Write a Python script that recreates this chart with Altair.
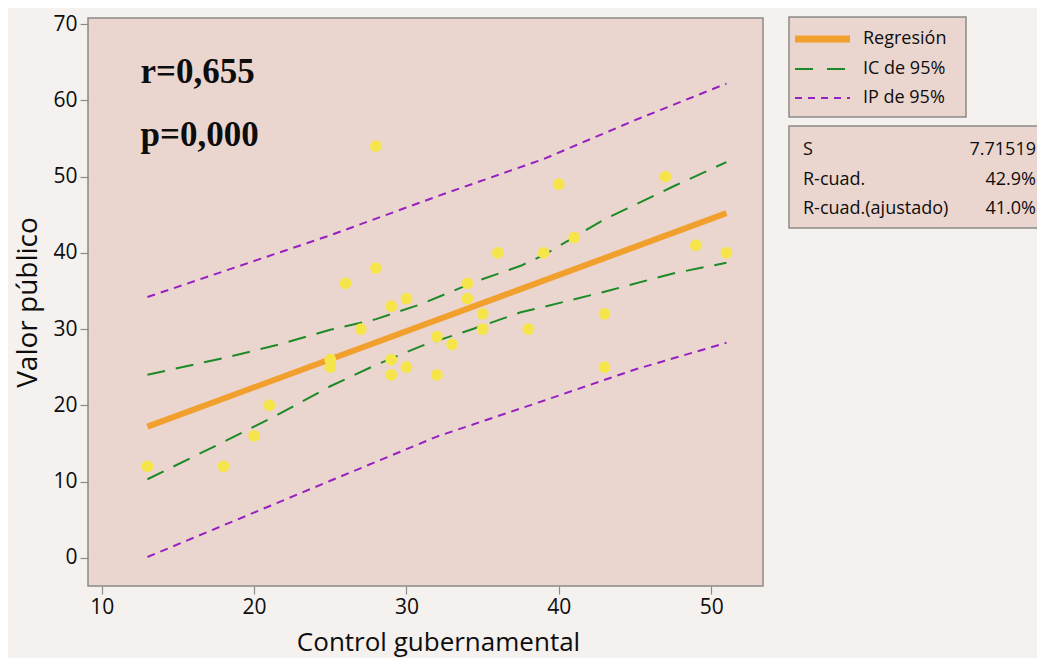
import altair as alt
import pandas as pd

# ---- data ----
control = [13, 18, 20, 21, 25, 25, 26, 27, 28, 28, 29, 29, 29, 30, 30, 32, 32,
           33, 34, 34, 35, 35, 36, 38, 39, 40, 41, 43, 43, 47, 49, 51]
valor = [12, 12, 16, 20, 26, 25, 36, 30, 54, 38, 33, 26, 24, 34, 25, 29, 24,
         28, 36, 34, 32, 30, 40, 30, 40, 49, 42, 32, 25, 50, 41, 40]

fit_x = [13, 51]
fit_y = [17.2, 45.2]

ci_x = [13, 18, 21.5, 25, 28, 31, 34.5, 37.5, 39, 43, 47.5, 51]
ci_upper = [24.0, 26.2, 27.9, 29.9, 31.3, 33.3, 36.2, 38.3, 39.7, 44.4, 48.7, 51.9]
ci_lower = [10.3, 15.2, 18.7, 22.5, 25.3, 27.8, 30.1, 32.2, 32.9, 34.9, 37.3, 38.7]

pi_x = [13, 25, 32, 39, 45, 51]
pi_upper = [34.2, 42.3, 47.4, 52.3, 57.4, 62.2]
pi_lower = [0.1, 10.1, 15.9, 20.6, 24.7, 28.2]

x_ticks = [10, 20, 30, 40, 50]
y_ticks = [0, 10, 20, 30, 40, 50, 60, 70]

annot_x = [12.55, 12.55]
annot_y = [62.3, 54.0]
annot_text = ["r=0,655", "p=0,000"]

legend_labels = ["Regresión", "IC de 95%", "IP de 95%"]
stat_names = ["S", "R-cuad.", "R-cuad.(ajustado)"]
stat_values = ["7.71519", "42.9%", "41.0%"]

# ---- styling ----
FONT = "Open Sans"
ORANGE = "#f1a02e"
GREEN = "#1c8a26"
PURPLE = "#9620c2"
YELLOW = "#f6e54a"
PINK = "#ebd6cf"
BORDER = "#8a8a8a"
INK = "#0d0d0d"

W, H = 675, 568
xs = alt.Scale(domain=[9.1, 53.4], nice=False, zero=False)
ys = alt.Scale(domain=[-3.7, 70.8], nice=False, zero=False)

xaxis = alt.Axis(values=x_ticks, title="Control gubernamental", grid=False, domain=False,
                 tickColor=BORDER, tickSize=8, tickWidth=1.2, labelFontSize=21,
                 labelColor=INK, labelFont=FONT, labelFontWeight=500, labelPadding=2,
                 titleFont=FONT, titleFontSize=26, titleFontWeight=500,
                 titleColor=INK, titleBaseline="alphabetic", titleAlign="center",
                 titleX=350, titleY=64)
yaxis = alt.Axis(values=y_ticks, title="Valor público", grid=False, domain=False,
                 tickColor=BORDER, tickSize=8, tickWidth=1.2, labelFontSize=21,
                 labelColor=INK, labelFont=FONT, labelFontWeight=500, labelPadding=3,
                 titleFont=FONT, titleFontSize=28, titleFontWeight=500,
                 titleColor=INK, titlePadding=10)

pts = pd.DataFrame({"x": control, "y": valor})
fit = pd.DataFrame({"x": fit_x, "y": fit_y})
ciu = pd.DataFrame({"x": ci_x, "y": ci_upper})
cil = pd.DataFrame({"x": ci_x, "y": ci_lower})
piu = pd.DataFrame({"x": pi_x, "y": pi_upper})
pil = pd.DataFrame({"x": pi_x, "y": pi_lower})
ann = pd.DataFrame({"x": annot_x, "y": annot_y, "t": annot_text})


def line(df, color, width, dash=None):
    kw = dict(color=color, strokeWidth=width, clip=True)
    if dash:
        kw["strokeDash"] = dash
    return alt.Chart(df).mark_line(**kw).encode(
        x=alt.X("x:Q", scale=xs, axis=xaxis),
        y=alt.Y("y:Q", scale=ys, axis=yaxis),
    )


one = pd.DataFrame({"a": [0]})

layers = [
    line(piu, PURPLE, 2, [8, 6]),
    line(pil, PURPLE, 2, [8, 6]),
    line(ciu, GREEN, 2, [18, 11]),
    line(cil, GREEN, 2, [18, 11]),
    line(fit, ORANGE, 6),
    alt.Chart(pts).mark_circle(size=140, color=YELLOW, opacity=1).encode(
        x=alt.X("x:Q", scale=xs, axis=xaxis),
        y=alt.Y("y:Q", scale=ys, axis=yaxis),
    ),
    alt.Chart(ann).mark_text(font="Liberation Serif", fontWeight="bold", fontSize=35,
                             align="left", baseline="alphabetic", color=INK).encode(
        x=alt.X("x:Q", scale=xs), y=alt.Y("y:Q", scale=ys), text="t:N"),
    # legend box
    alt.Chart(one).mark_rect(fill=PINK, stroke=BORDER, strokeWidth=1.5).encode(
        x=alt.value(701), x2=alt.value(878), y=alt.value(-1), y2=alt.value(99)),
    alt.Chart(one).mark_rule(color=ORANGE, strokeWidth=7).encode(
        x=alt.value(707), x2=alt.value(762), y=alt.value(21)),
    alt.Chart(one).mark_rule(color=GREEN, strokeWidth=2, strokeDash=[18, 14]).encode(
        x=alt.value(707), x2=alt.value(757), y=alt.value(51)),
    alt.Chart(one).mark_rule(color=PURPLE, strokeWidth=2, strokeDash=[7, 6]).encode(
        x=alt.value(707), x2=alt.value(762), y=alt.value(80)),
    # stats box
    alt.Chart(one).mark_rect(fill=PINK, stroke=BORDER, strokeWidth=1.5).encode(
        x=alt.value(701), x2=alt.value(965), y=alt.value(108), y2=alt.value(210)),
]

for lab, yy in zip(legend_labels, [21, 51, 80]):
    layers.append(alt.Chart(one).mark_text(font=FONT, fontSize=18, align="left",
                                           baseline="middle", color=INK).encode(
        x=alt.value(775), y=alt.value(yy), text=alt.value(lab)))

for nm, val, yy in zip(stat_names, stat_values, [132, 162, 191]):
    layers.append(alt.Chart(one).mark_text(font=FONT, fontSize=18, align="left",
                                           baseline="middle", color=INK).encode(
        x=alt.value(715), y=alt.value(yy), text=alt.value(nm)))
    layers.append(alt.Chart(one).mark_text(font=FONT, fontSize=18, align="right",
                                           baseline="middle", color=INK).encode(
        x=alt.value(948), y=alt.value(yy), text=alt.value(val)))

chart = alt.layer(*layers).properties(
    width=W, height=H,
    autosize=alt.AutoSizeParams(type="none"),
    padding={"left": 80, "top": 10, "right": 274, "bottom": 72},
    background="#f4f1ef",
).configure_view(fill=PINK, stroke=BORDER, strokeWidth=1.5)

chart.save("out.html", embed_options={"renderer": "svg", "actions": False})
